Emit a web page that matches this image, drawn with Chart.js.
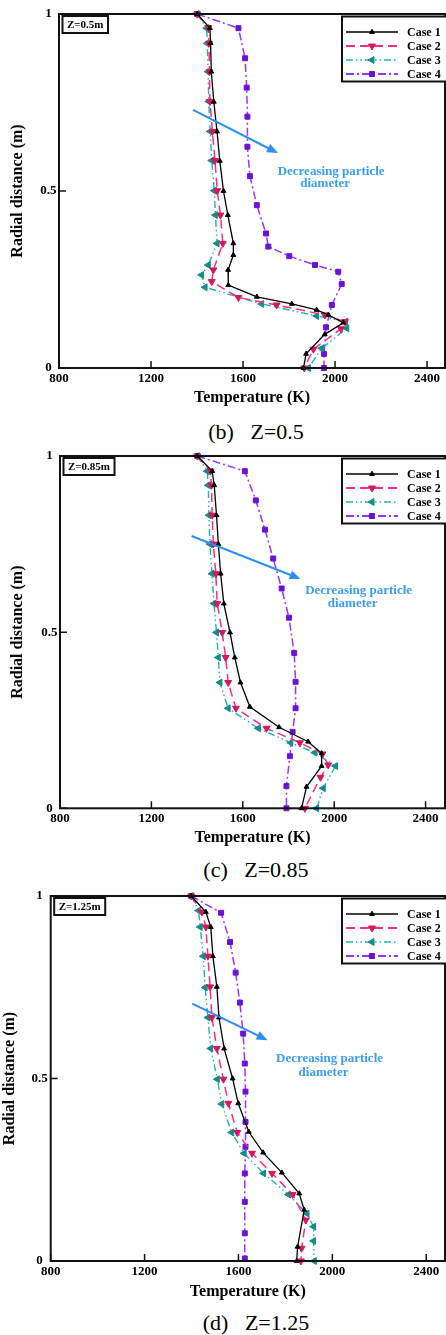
<!DOCTYPE html>
<html>
<head>
<meta charset="utf-8">
<script src="https://cdn.jsdelivr.net/npm/chart.js@4.4.1/dist/chart.umd.min.js"></script>
<style>
  html, body { margin: 0; padding: 0; background: #fff; overflow: hidden; }
  body { width: 446px; height: 1335px; position: relative; }
  .panel { position: absolute; left: 0; width: 450px; }
  .cap { position: absolute; left: 0; width: 512px; text-align: center; white-space: pre;
         font: 22px "Liberation Serif", "DejaVu Serif", serif; line-height: 22px; color: #000; }
</style>
</head>
<body>
<div class="panel" style="top:0px;height:412px"><canvas id="chartB" width="450" height="412"></canvas></div>
<div class="cap" style="top:421px">(b)   Z=0.5</div>
<div class="panel" style="top:442px;height:410px"><canvas id="chartC" width="450" height="410"></canvas></div>
<div class="cap" style="top:859px">(c)   Z=0.85</div>
<div class="panel" style="top:882px;height:424px"><canvas id="chartD" width="450" height="424"></canvas></div>
<div class="cap" style="top:1312px">(d)   Z=1.25</div>

<script>
const tempTicks = [800, 1200, 1600, 2000, 2400];
const radTicks = [0, 0.5, 1];
const caseNames = ["Case 1", "Case 2", "Case 3", "Case 4"];

// [temperature (K), radial distance (m)]
// (b) Z=0.5
const case1B = [[1401,1],[1456,0.96],[1459,0.918],[1462,0.837],[1473,0.752],[1487,0.668],[1499,0.585],[1515,0.5],[1534,0.432],[1558,0.352],[1558,0.319],[1535,0.277],[1536,0.234],[1660,0.201],[1812,0.181],[1920,0.164],[1971,0.15],[2036,0.128],[1955,0.095],[1874,0.04],[1863,0]];
const case2B = [[1401,1],[1449,0.962],[1452,0.917],[1454,0.837],[1456,0.753],[1467,0.668],[1478,0.586],[1488,0.501],[1502,0.432],[1512,0.352],[1471,0.277],[1464,0.244],[1580,0.199],[1746,0.178],[1955,0.15],[2043,0.131],[2026,0.111],[1906,0.053],[1866,0]];
const case3B = [[1401,1],[1442,0.96],[1445,0.917],[1448,0.837],[1451,0.753],[1457,0.668],[1464,0.586],[1475,0.501],[1480,0.432],[1487,0.352],[1449,0.291],[1420,0.263],[1435,0.228],[1681,0.181],[1920,0.147],[2045,0.131],[2051,0.112],[1942,0.056],[1884,0]];
const case4B = [[1401,1],[1580,0.96],[1609,0.875],[1616,0.792],[1619,0.71],[1619,0.625],[1630,0.542],[1660,0.46],[1700,0.38],[1710,0.343],[1801,0.316],[1913,0.291],[2014,0.272],[2029,0.237],[1986,0.178],[1961,0.115],[1952,0.04],[1952,0]];

// (c) Z=0.85
const case1C = [[1401,1],[1466,0.957],[1475,0.917],[1485,0.832],[1493,0.75],[1503,0.666],[1517,0.581],[1544,0.499],[1565,0.428],[1590,0.357],[1631,0.288],[1759,0.23],[1886,0.189],[1945,0.156],[1945,0.12],[1879,0.061],[1857,0]];
const case2C = [[1401,1],[1459,0.957],[1463,0.917],[1466,0.832],[1471,0.75],[1482,0.666],[1488,0.581],[1510,0.499],[1525,0.428],[1536,0.357],[1570,0.284],[1704,0.227],[1850,0.186],[1949,0.154],[1974,0.123],[1940,0.088],[1872,0]];
const case3C = [[1401,1],[1444,0.957],[1449,0.917],[1452,0.832],[1456,0.75],[1465,0.666],[1474,0.581],[1485,0.499],[1493,0.428],[1500,0.357],[1536,0.284],[1668,0.227],[1810,0.186],[1915,0.158],[2006,0.12],[1952,0.057],[1923,0]];
const case4C = [[1401,1],[1609,0.957],[1657,0.874],[1697,0.791],[1733,0.709],[1770,0.624],[1802,0.541],[1825,0.441],[1831,0.359],[1831,0.284],[1818,0.217],[1806,0.148],[1791,0.063],[1791,0]];

// (d) Z=1.25
const case1D = [[1399,1],[1461,0.956],[1482,0.915],[1491,0.835],[1508,0.751],[1517,0.667],[1539,0.582],[1575,0.5],[1599,0.432],[1644,0.354],[1705,0.297],[1785,0.242],[1859,0.185],[1880,0.14],[1852,0.039],[1848,0]];
const case2D = [[1399,1],[1444,0.956],[1461,0.915],[1470,0.835],[1479,0.751],[1487,0.667],[1508,0.582],[1536,0.498],[1557,0.432],[1595,0.352],[1658,0.295],[1743,0.24],[1831,0.182],[1887,0.112],[1869,0.035],[1866,0]];
const case3D = [[1399,1],[1430,0.96],[1437,0.915],[1450,0.835],[1458,0.749],[1470,0.667],[1482,0.582],[1510,0.498],[1529,0.43],[1571,0.352],[1624,0.295],[1707,0.24],[1813,0.182],[1892,0.13],[1920,0.094],[1920,0.055],[1923,0]];
const case4D = [[1399,1],[1526,0.954],[1564,0.874],[1588,0.79],[1606,0.708],[1620,0.623],[1627,0.541],[1630,0.464],[1630,0.381],[1630,0.313],[1627,0.24],[1627,0.162],[1627,0.076],[1627,0.007]];

const serif = "'Liberation Serif', 'DejaVu Serif', serif";
Chart.defaults.font.family = serif;
Chart.defaults.color = "#000";

const caseStyles = [
  { color: "#000000", marker: "#000000", dash: [], style: "triangle", rot: 0, radius: 2.8, width: 1.3 },
  { color: "#ff2b86", marker: "#d6175f", dash: [9, 5], style: "triangle", rot: 180, radius: 4, width: 1.5 },
  { color: "#1fb3b0", marker: "#148c8a", dash: [7, 3, 1.5, 3, 1.5, 3], style: "triangle", rot: 270, radius: 4, width: 1.4 },
  { color: "#9a33ff", marker: "#6a12d6", dash: [8, 3, 2, 3], style: "rect", rot: 0, radius: 3.5, width: 1.5 }
];

const panels = [
  { id: "chartB", h: 412, left: 59, top: 14, bottom: 368, right: 445, xMax: 2478, yPad: 8.4, xPad: 3, yTickPad: 2.5,
    tag: "Z=0.5m", arrow: [[1383, 0.729], [1752, 0.607]], note: [1983, 0.556, 0.52],
    series: [case1B, case2B, case3B, case4B] },
  { id: "chartC", h: 410, left: 60, top: 14, bottom: 366.3, right: 445, xMax: 2485, yPad: 8.7, xPad: 3, yTickPad: 2.5,
    tag: "Z=0.85m", arrow: [[1376, 0.773], [1853, 0.651]], note: [2107, 0.617, 0.582],
    series: [case1C, case2C, case3C, case4C] },
  { id: "chartD", h: 424, left: 50.7, top: 14, bottom: 379, right: 448, xMax: 2480, yPad: 0, xPad: 3, yTickPad: 3,
    tag: "Z=1.25m", arrow: [[1403, 0.705], [1724, 0.605]], note: [1988, 0.555, 0.517],
    series: [case1D, case2D, case3D, case4D] }
];

function marker(ctx, st, x, y) {
  ctx.fillStyle = st.marker;
  ctx.strokeStyle = st.marker;
  ctx.lineWidth = 1;
  ctx.setLineDash([]);
  Chart.helpers.drawPoint(ctx, { pointStyle: st.style, rotation: st.rot, radius: st.radius, borderWidth: 1 }, x, y);
}

const decor = {
  id: "decor",
  afterDraw(chart, args, o) {
    const { ctx, chartArea: a, scales: { x, y } } = chart;
    ctx.save();

    // frame
    ctx.strokeStyle = "#111";
    ctx.lineWidth = 2;
    ctx.setLineDash([]);
    ctx.strokeRect(a.left, a.top, a.right - a.left, a.bottom - a.top);

    // inward tick marks
    ctx.lineWidth = 1.5;
    ctx.beginPath();
    tempTicks.forEach(v => {
      const px = x.getPixelForValue(v);
      ctx.moveTo(px, a.bottom);
      ctx.lineTo(px, a.bottom - 7);
    });
    radTicks.forEach(v => {
      const py = y.getPixelForValue(v);
      ctx.moveTo(a.left, py);
      ctx.lineTo(a.left + 7, py);
    });
    ctx.stroke();

    // tag box
    ctx.font = "bold 11px " + serif;
    const tw = ctx.measureText(o.tag).width;
    ctx.lineWidth = 2;
    ctx.strokeRect(a.left + 3.5, a.top + 2, tw + 9, 17);
    ctx.fillStyle = "#000";
    ctx.textAlign = "left";
    ctx.textBaseline = "middle";
    ctx.fillText(o.tag, a.left + 8, a.top + 11);

    // arrow
    const x1 = x.getPixelForValue(o.arrow[0][0]), y1 = y.getPixelForValue(o.arrow[0][1]);
    const x2 = x.getPixelForValue(o.arrow[1][0]), y2 = y.getPixelForValue(o.arrow[1][1]);
    const ang = Math.atan2(y2 - y1, x2 - x1);
    ctx.strokeStyle = "#2b8ef0";
    ctx.fillStyle = "#2b8ef0";
    ctx.lineWidth = 2;
    ctx.beginPath();
    ctx.moveTo(x1, y1);
    ctx.lineTo(x2 - 8 * Math.cos(ang), y2 - 8 * Math.sin(ang));
    ctx.stroke();
    ctx.beginPath();
    ctx.moveTo(x2, y2);
    ctx.lineTo(x2 - 11 * Math.cos(ang) + 4.5 * Math.sin(ang), y2 - 11 * Math.sin(ang) - 4.5 * Math.cos(ang));
    ctx.lineTo(x2 - 11 * Math.cos(ang) - 4.5 * Math.sin(ang), y2 - 11 * Math.sin(ang) + 4.5 * Math.cos(ang));
    ctx.closePath();
    ctx.fill();

    ctx.font = "bold 13px " + serif;
    ctx.fillStyle = "#3a9cf6";
    ctx.textAlign = "center";
    const nx = x.getPixelForValue(o.note[0]);
    ctx.fillText("Decreasing particle", nx, y.getPixelForValue(o.note[1]));
    ctx.fillText("diameter", nx - 6, y.getPixelForValue(o.note[2]));

    // legend
    const bx = a.right - 103, by = a.top + 2.5;
    ctx.strokeStyle = "#111";
    ctx.lineWidth = 2;
    ctx.fillStyle = "#fff";
    ctx.fillRect(bx, by, 108, 65);
    ctx.strokeRect(bx, by, 108, 65);
    chart.data.datasets.forEach((ds, i) => {
      const st = caseStyles[i];
      const ly = by + 15.5 + i * 14;
      ctx.strokeStyle = st.color;
      ctx.lineWidth = st.width + 0.3;
      ctx.setLineDash(st.dash);
      ctx.beginPath();
      ctx.moveTo(bx + 4, ly);
      ctx.lineTo(bx + 56, ly);
      ctx.stroke();
      marker(ctx, st, bx + 30, ly);
      ctx.fillStyle = "#000";
      ctx.font = "bold 12px " + serif;
      ctx.textAlign = "left";
      ctx.textBaseline = "middle";
      ctx.fillText(ds.label, bx + 65, ly + 0.5);
    });
    ctx.restore();
  }
};

panels.forEach(p => {
  const datasets = p.series.map((s, i) => {
    const st = caseStyles[i];
    return {
      label: caseNames[i],
      data: s.map(d => ({ x: d[0], y: d[1] })),
      borderColor: st.color,
      borderWidth: st.width,
      borderDash: st.dash,
      backgroundColor: st.marker,
      pointStyle: st.style,
      pointRotation: st.rot,
      pointRadius: st.radius,
      pointBackgroundColor: st.marker,
      pointBorderColor: st.marker,
      pointBorderWidth: 1,
      tension: 0,
      fill: false,
      clip: false
    };
  });

  new Chart(document.getElementById(p.id), {
    type: "line",
    data: { datasets },
    options: {
      responsive: false,
      animation: false,
      events: [],
      layout: { padding: { top: p.top, left: 0, right: 450 - p.right, bottom: 0 } },
      plugins: {
        legend: { display: false },
        tooltip: { enabled: false },
        decor: { tag: p.tag, arrow: p.arrow, note: p.note }
      },
      scales: {
        x: {
          type: "linear",
          min: 800,
          max: p.xMax,
          afterBuildTicks: s => { s.ticks = tempTicks.map(v => ({ value: v })); },
          afterFit: s => { s.height = p.h - p.bottom; },
          grid: { display: false, drawTicks: false },
          border: { display: false },
          ticks: { padding: p.xPad, maxRotation: 0, autoSkip: false, font: { size: 13, weight: "bold" },
                   callback: v => String(v) },
          title: { display: true, text: "Temperature (K)", font: { size: 16, weight: "bold" },
                   padding: { top: 0, bottom: 4.4 } }
        },
        y: {
          type: "linear",
          min: 0,
          max: 1,
          afterBuildTicks: s => { s.ticks = radTicks.map(v => ({ value: v })); },
          afterFit: s => { s.width = p.left; },
          grid: { display: false, drawTicks: false },
          border: { display: false },
          ticks: { padding: p.yTickPad, crossAlign: "center", font: { size: 13, weight: "bold" },
                   callback: v => String(v) },
          title: { display: true, text: "Radial distance (m)", font: { size: 16, weight: "bold" },
                   padding: { top: p.yPad, bottom: 0 } }
        }
      }
    },
    plugins: [decor]
  });
});
</script>
</body>
</html>
